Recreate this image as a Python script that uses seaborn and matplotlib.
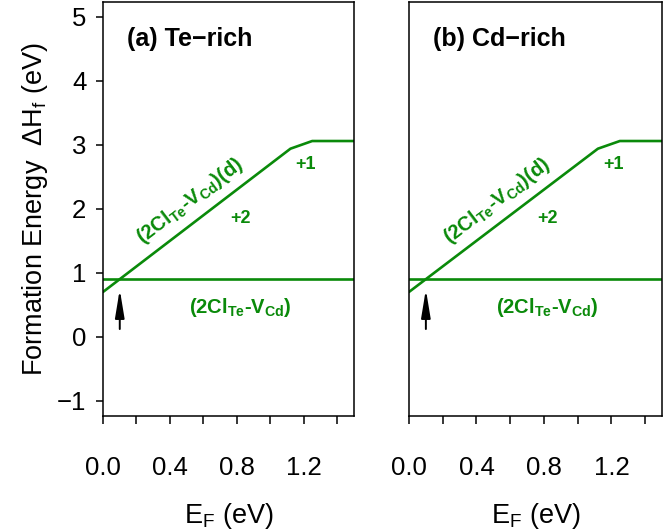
import numpy as np
import pandas as pd
import matplotlib
matplotlib.use("Agg")
import matplotlib.pyplot as plt
import seaborn as sns

# --- data ---
panel_titles = ["(a) Te\u2212rich", "(b) Cd\u2212rich"]
ef_complex_d = [0.0, 1.12, 1.25, 1.5]      # (2Cl_Te-V_Cd)(d), charge +2 then +1 then 0
dh_complex_d = [0.70, 2.94, 3.06, 3.06]
ef_complex = [0.0, 1.5]                      # (2Cl_Te-V_Cd), neutral
dh_complex = [0.90, 0.90]
ef_arrow = 0.10
x_ticks = [0.0, 0.2, 0.4, 0.6, 0.8, 1.0, 1.2, 1.4]
x_ticklabels = ["0.0", "", "0.4", "", "0.8", "", "1.2", ""]
y_ticks = [-1, 0, 1, 2, 3, 4, 5]

verde = "#0a8a0a"

sns.set_style("ticks")
plt.rcParams["font.family"] = ["Liberation Sans", "DejaVu Sans"]
plt.rcParams["mathtext.fontset"] = "custom"
plt.rcParams["mathtext.rm"] = "Liberation Sans"
plt.rcParams["mathtext.bf"] = "Liberation Sans:bold"
for clave in ["text.color", "axes.labelcolor", "xtick.color", "ytick.color", "axes.edgecolor"]:
    plt.rcParams[clave] = "black"

fig = plt.figure(figsize=(6.63, 5.32), dpi=100)
ax_izq = fig.add_axes([0.1554, 0.218, 0.3786, 0.779])
ax_der = fig.add_axes([0.6169, 0.218, 0.3816, 0.779])

for i, ax in enumerate([ax_izq, ax_der]):
    df_d = pd.DataFrame({"EF": ef_complex_d, "dH": dh_complex_d})
    df_n = pd.DataFrame({"EF": ef_complex, "dH": dh_complex})
    sns.lineplot(data=df_d, x="EF", y="dH", ax=ax, color=verde, lw=1.9, sort=False)
    sns.lineplot(data=df_n, x="EF", y="dH", ax=ax, color=verde, lw=1.9, sort=False)

    ax.set_xlim(0, 1.5)
    ax.set_ylim(-1.24, 5.24)
    ax.set_xticks(x_ticks)
    ax.set_xticklabels(x_ticklabels)
    ax.tick_params(axis="x", direction="out", length=6, width=1.1, pad=23, labelsize=18.5)
    if i == 0:
        ax.set_yticks(y_ticks)
        ax.set_yticklabels(["\u22121", "0", "1", "2", "3", "4", "5"])
        ax.tick_params(axis="y", direction="out", length=5, width=1.1, pad=7, labelsize=18.5)
        ax.set_ylabel("Formation Energy  \u0394H$_\\mathrm{f}$ (eV)", fontsize=19.5, labelpad=5)
    else:
        ax.set_yticks([])
        ax.set_ylabel("")
    ax.set_xlabel("E$_\\mathrm{F}$ (eV)", fontsize=19.5, labelpad=15)
    for s in ax.spines.values():
        s.set_visible(True)
        s.set_linewidth(1.1)
        s.set_color("black")

    ax.text(0.145, 4.66, panel_titles[i], fontsize=18, fontweight="bold",
            ha="left", va="center")
    ax.text(0.52, 2.12, "(2Cl$_\\mathbf{Te}$-V$_\\mathbf{Cd}$)(d)", color=verde,
            fontsize=14.5, fontweight="bold", rotation=37.3,
            ha="center", va="center", rotation_mode="anchor")
    ax.text(0.82, 1.85, "+2", color=verde, fontsize=13, fontweight="bold",
            ha="center", va="center")
    ax.text(1.21, 2.70, "+1", color=verde, fontsize=13, fontweight="bold",
            ha="center", va="center")
    ax.text(0.82, 0.46, "(2Cl$_\\mathbf{Te}$-V$_\\mathbf{Cd}$)", color=verde,
            fontsize=14.5, fontweight="bold", ha="center", va="center")
    ax.annotate("", xy=(ef_arrow, 0.74), xytext=(ef_arrow, 0.12),
                arrowprops=dict(arrowstyle="-|>,head_length=0.85,head_width=0.14",
                                color="black", lw=1.4,
                                mutation_scale=20, shrinkA=0, shrinkB=0))

fig.savefig("out.png", dpi=100)
